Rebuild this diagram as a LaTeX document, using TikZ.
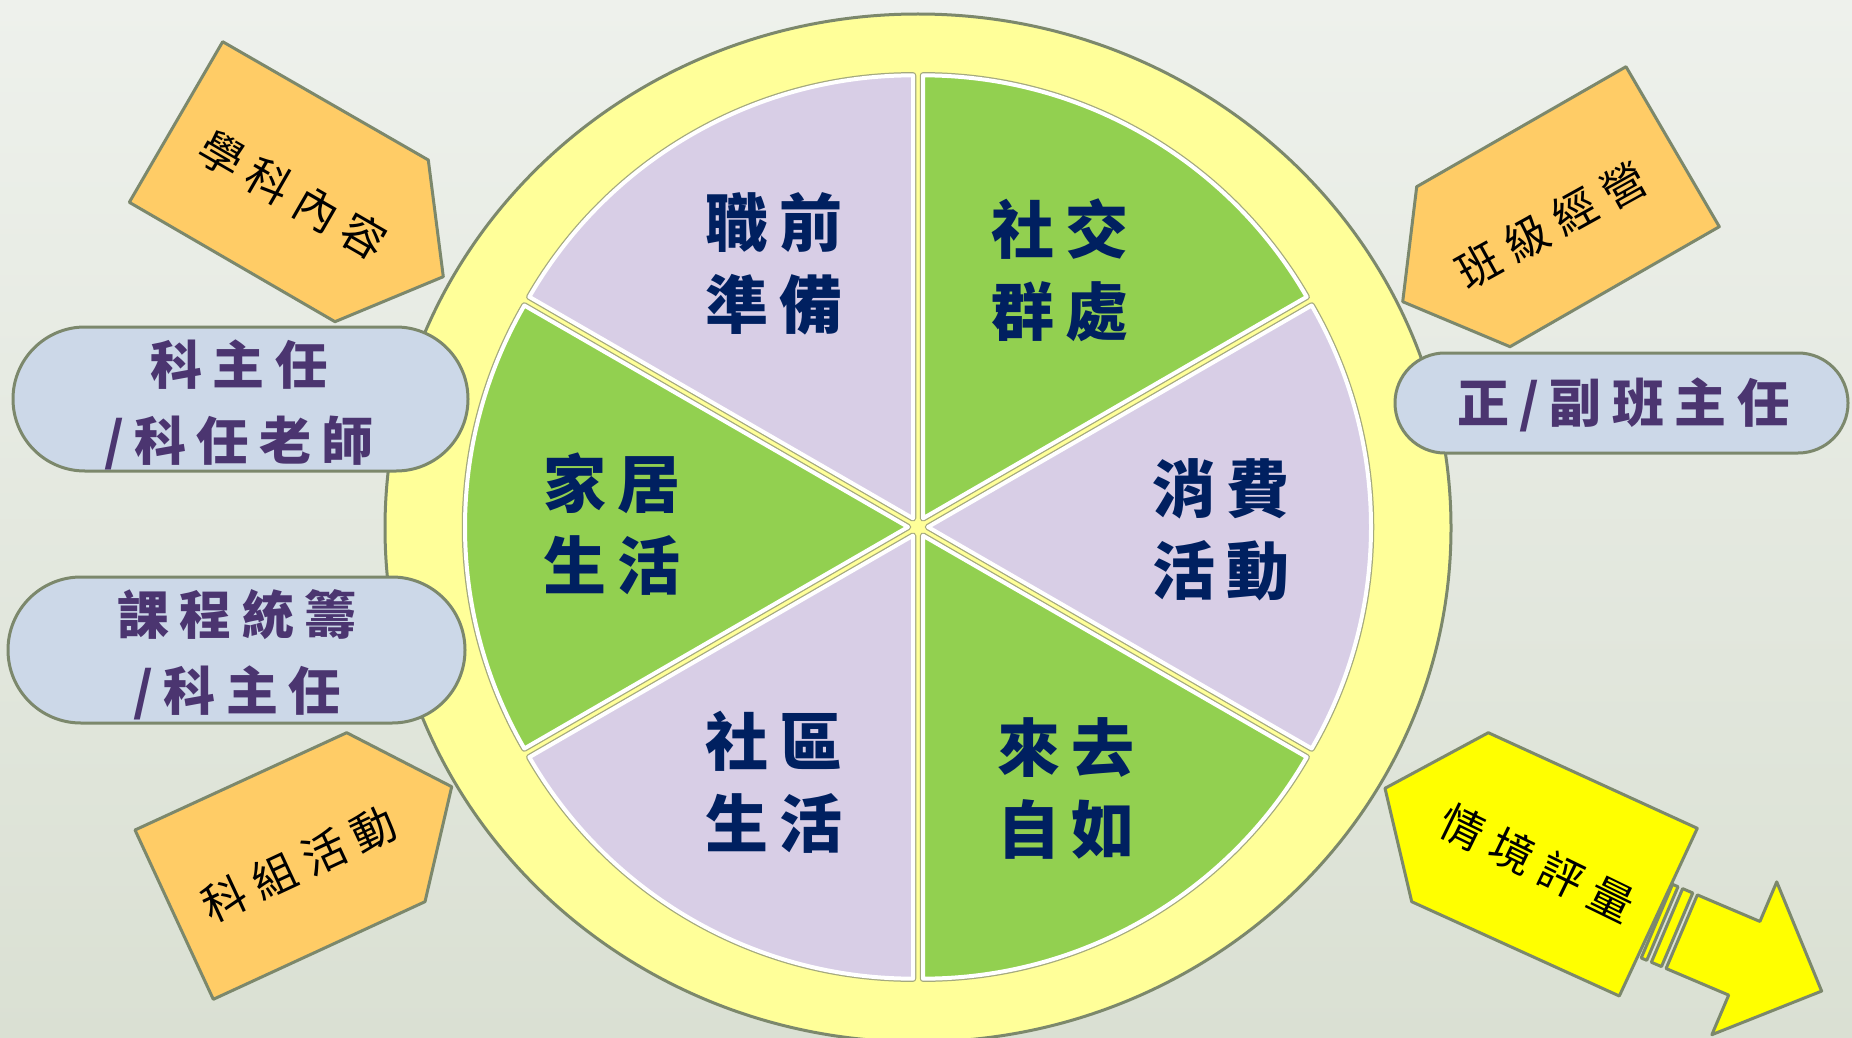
\documentclass[tikz,border=0pt]{standalone}
\usepackage{fontspec}
\newfontfamily\cjk{Noto Sans CJK TC}
\usetikzlibrary{positioning}

\definecolor{bgtop}{HTML}{EEF1EC}
\definecolor{bgmid}{HTML}{DDE3D7}
\definecolor{bgbot}{HTML}{DAE0D3}
\definecolor{rim}{HTML}{7C886C}
\definecolor{lemon}{HTML}{FFFF99}
\definecolor{lilac}{HTML}{D8CEE6}
\definecolor{leaf}{HTML}{92D050}
\definecolor{navy}{HTML}{002060}
\definecolor{plum}{HTML}{4B3570}
\definecolor{pillblue}{HTML}{CCD8E8}
\definecolor{tagorange}{HTML}{FFCC66}
\definecolor{tagyellow}{HTML}{FFFF00}
\definecolor{seam}{HTML}{A4A97E}

\tikzset{
  rimline/.style={draw=rim,line width=3pt,line join=round},
  tag/.style={rimline,fill=tagorange},
  tagtext/.style={text=black,font=\cjk\fontsize{44}{50}\selectfont\addfontfeatures{LetterSpace=25}},
  pill/.style={rimline,fill=pillblue,inner sep=0pt},
  pilltext/.style={text=plum,align=center,font=\cjk\bfseries\fontsize{52}{76}\selectfont\addfontfeatures{LetterSpace=20}},
  sectortext/.style={text=navy,align=center,font=\cjk\bfseries\fontsize{63}{82}\selectfont\addfontfeatures{LetterSpace=17}}
}

\begin{document}
\begin{tikzpicture}[x=1pt,y=1pt]
	\useasboundingbox (0,0) rectangle (1852,-1038);
	\shade[top color=bgtop,middle color=bgmid,bottom color=bgbot] (0,0) rectangle (1852,-1038);

	% outer yellow disc
	\draw[rimline,fill=lemon] (918,-528) ellipse [x radius=533, y radius=514];

	% six sectors, slightly pulled apart
	\begin{scope}[shift={(918,-527)}]
	\foreach \a/\c in {30/leaf,90/lilac,150/leaf,210/lilac,270/leaf,330/lilac}{
		\begin{scope}[shift={(\a+30:10)}]
		\draw[seam,line width=6.5pt,line join=round] (0,0) -- (\a:443) arc[start angle=\a, end angle=\a+60, radius=443pt] -- cycle;
		\filldraw[fill=\c,draw=white,line width=4pt,line join=round] (0,0) -- (\a:443) arc[start angle=\a, end angle=\a+60, radius=443pt] -- cycle;
		\end{scope}
	}
	\end{scope}

	\node[sectortext] (zhiqian) at (774,-264) {職前\\準備};
	\node[sectortext] (shejiao) at (1060,-270) {社交\\群處};
	\node[sectortext] (jiaju) at (612,-524) {家居\\生活};
	\node[sectortext] (xiaofei) at (1221,-530) {消費\\活動};
	\node[sectortext] (shequ) at (774,-782) {社區\\生活};
	\node[sectortext] (laiqu) at (1066,-788) {來去\\自如};

	% tags round the disc
	\draw[tag] (222.7,-41.7) -- (428.3,-160) -- (443.3,-276.7) -- (335,-321.7) -- (129.3,-202.3) -- cycle;
	\node[tagtext,rotate=-30] (xueke) at (293,-195) {學科內容};

	\draw[tag] (1626,-66.7) -- (1719.3,-226.7) -- (1510,-346.7) -- (1402.7,-301.7) -- (1416.7,-186.7) -- cycle;
	\node[tagtext,rotate=29] (banji) at (1551,-225) {班級經營};

	\draw[tag] (346.7,-732.7) -- (451.7,-786.7) -- (425,-901.7) -- (213.3,-999.3) -- (135,-830) -- cycle;
	\node[tagtext,rotate=25] (kezu) at (299,-864) {科組活動};

	% striped arrow behind the last tag
	\begin{scope}[shift={(1681.7,-931.7)},rotate=-23]
		\draw[rimline,fill=tagyellow] (-27,-40) rectangle (-21,40);
		\draw[rimline,fill=tagyellow] (-16,-40) rectangle (-5,40);
		\draw[rimline,fill=tagyellow] (0,-40) -- (68,-40) -- (68,-83) -- (152,0) -- (68,83) -- (68,40) -- (0,40) -- cycle;
	\end{scope}
	\draw[rimline,fill=tagyellow] (1488.3,-732.7) -- (1697.3,-828.3) -- (1619.3,-996) -- (1411.7,-901.7) -- (1385,-788.3) -- cycle;
	\node[tagtext,rotate=-26] (qingjing) at (1537,-863) {情境評量};

	% staff pills
	\node[pill,minimum width=455pt,minimum height=144pt,rounded corners=71.9pt] (kezhuren) at (240.5,-399) {};
	\node[pilltext] (kezhurentxt) at (239,-405) {科主任\\/科任老師};
	\node[pill,minimum width=457pt,minimum height=146pt,rounded corners=72.9pt] (kecheng) at (236.5,-650) {};
	\node[pilltext] (kechengtxt) at (237,-655) {課程統籌\\/科主任};
	\node[pill,minimum width=453pt,minimum height=100pt,rounded corners=49.9pt] (banzhuren) at (1621.5,-403) {};
	\node[pilltext] (banzhurentxt) at (1623,-405) {正/副班主任};
\end{tikzpicture}
\end{document}
